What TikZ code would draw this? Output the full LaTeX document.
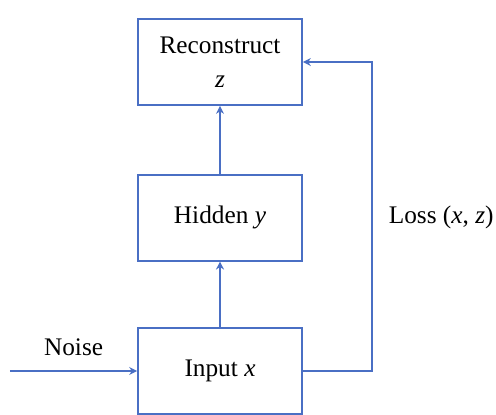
\documentclass[tikz,border=0pt]{standalone}
\usepackage{fontspec}
\setmainfont{Liberation Serif}
\usetikzlibrary{positioning,arrows.meta,calc}
\definecolor{azul}{HTML}{4A6FC4}

\begin{document}
\begin{tikzpicture}[font=\fontsize{18}{24}\selectfont, >={Stealth[length=2mm,width=2mm]},
      blk/.style={draw=azul, minimum width=4.1cm, minimum height=2.15cm,
                  align=center, line width=1.2pt},
      flecha/.style={->, draw=azul, line width=1.2pt}]
    \useasboundingbox (0,0) rectangle (12.4,10.375);
    \node[blk] (in) at (5.5,1.1) {Input \textit{x}};
    \node[blk, above=1.64cm of in] (hid) {Hidden \textit{y}};
    \node[blk, above=1.7cm of hid] (rec) {Reconstruct\\\textit{z}};
    \coordinate (src) at (0.25,1.1);
    \coordinate (turn) at ($(in.east)+(1.725,0)$);
    \draw[flecha] (src) -- node[above=0.25cm]{Noise} (in.west);
    \draw[flecha] (in) -- (hid);
    \draw[flecha] (hid) -- (rec);
    \draw[flecha] (in.east) -- (turn) |- (rec.east);
    \node[anchor=west, xshift=0.3cm] (loss) at (turn |- hid) {Loss (\textit{x}, \textit{z})};
  \end{tikzpicture}
\end{document}
